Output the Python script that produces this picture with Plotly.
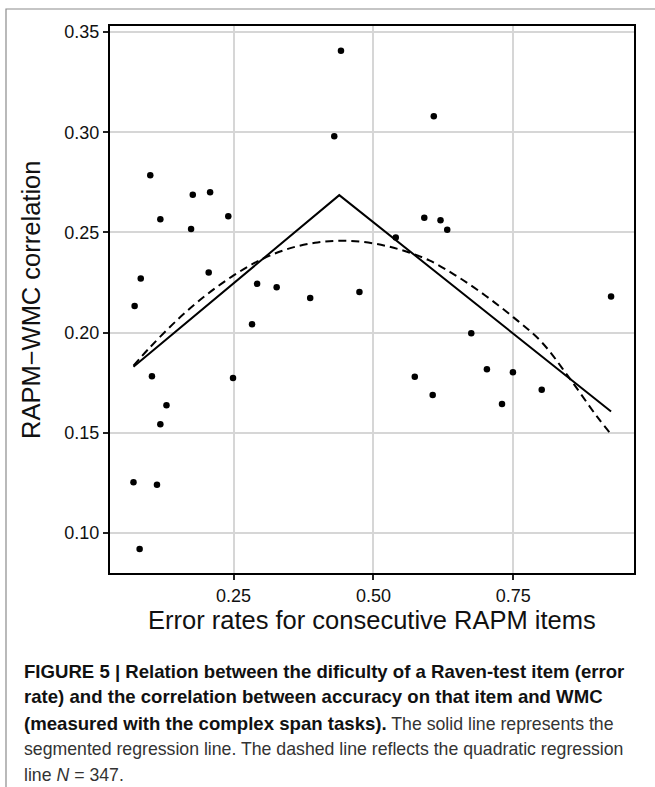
import plotly.graph_objects as go

# ---------------- data ----------------
error_rate = [0.442, 0.430, 0.608, 0.101, 0.177, 0.208, 0.119, 0.2405, 0.174,
              0.084, 0.2055, 0.073, 0.292, 0.327, 0.387, 0.475, 0.283, 0.104,
              0.249, 0.130, 0.119, 0.071, 0.113, 0.082, 0.591, 0.620, 0.632,
              0.540, 0.925, 0.675, 0.574, 0.606, 0.703, 0.7495, 0.730, 0.801]
rapm_wmc_corr = [0.3406, 0.298, 0.308, 0.2785, 0.2688, 0.270, 0.2566, 0.258, 0.2517,
                 0.227, 0.230, 0.2133, 0.2243, 0.2226, 0.2173, 0.2203, 0.2042, 0.1782,
                 0.1773, 0.1637, 0.1543, 0.1253, 0.124, 0.092, 0.2573, 0.256, 0.2513,
                 0.2474, 0.218, 0.1996, 0.1779, 0.1688, 0.1817, 0.1802, 0.1644, 0.1714]

# segmented regression line (breakpoint model)
seg_x = [0.071, 0.439, 0.925]
seg_y = [0.1829, 0.2686, 0.1606]

# quadratic regression line
quad_x = [0.071, 0.10, 0.15, 0.20, 0.25, 0.30, 0.35, 0.40, 0.45, 0.50,
          0.55, 0.60, 0.65, 0.70, 0.75, 0.80, 0.85, 0.90, 0.925]
quad_y = [0.1835, 0.1925, 0.2065, 0.2185, 0.2285, 0.2365, 0.2420, 0.2450, 0.2458, 0.2445,
          0.2412, 0.2360, 0.2280, 0.2185, 0.2077, 0.1955, 0.1775, 0.1580, 0.1492]

x_ticks = [0.25, 0.50, 0.75]
x_tick_labels = ["0.25", "0.50", "0.75"]
y_ticks = [0.10, 0.15, 0.20, 0.25, 0.30, 0.35]
y_tick_labels = ["0.10", "0.15", "0.20", "0.25", "0.30", "0.35"]

x_title = "Error rates for consecutive RAPM items"
y_title = "RAPM\u2212WMC correlation"
REG = "<span style='color:#333333;font-size:17.7px'>"
caption_lines = [
    "<b>FIGURE 5 | Relation between the dificulty of a Raven-test item (error</b>",
    "<b>rate) and the correlation between accuracy on that item and WMC</b>",
    "<b>(measured with the complex span tasks).</b>" + REG + " The solid line represents the</span>",
    REG + "segmented regression line. The dashed line reflects the quadratic regression</span>",
    REG + "line <i>N</i> = 347.</span>",
]

# ---------------- layout geometry ----------------
W, H = 655, 787
L, R, T, B = 110, 21, 26, 214
PW, PH = W - L - R, H - T - B
FONT = "Liberation Sans, Arial, Helvetica, sans-serif"


def px(xp):
    return (xp - L) / PW


def py(yp):
    return (H - B - yp) / PH


fig = go.Figure()

fig.add_trace(go.Scatter(x=error_rate, y=rapm_wmc_corr, mode="markers",
                         marker=dict(color="black", size=6.5),
                         showlegend=False, hoverinfo="skip"))
fig.add_trace(go.Scatter(x=seg_x, y=seg_y, mode="lines",
                         line=dict(color="black", width=2),
                         showlegend=False, hoverinfo="skip"))
fig.add_trace(go.Scatter(x=quad_x, y=quad_y, mode="lines",
                         line=dict(color="black", width=2, dash="8px,5px", shape="spline",
                                   smoothing=1.0),
                         showlegend=False, hoverinfo="skip"))

axis_common = dict(
    showgrid=True, gridcolor="#d6d6d6", gridwidth=1.7,
    zeroline=False, showline=True, linecolor="black", linewidth=2, mirror=True,
    ticks="outside", ticklen=5, tickwidth=1.5, tickcolor="#222222",
    tickfont=dict(family=FONT, size=18, color="#111111"),
)

fig.update_xaxes(range=[0.029, 0.966], tickvals=x_ticks, ticktext=x_tick_labels,
                 **axis_common)
fig.update_yaxes(range=[0.0800, 0.3530], tickvals=y_ticks, ticktext=y_tick_labels,
                 **axis_common)

annotations = [
    dict(text=x_title, x=px(372), y=py(620), xref="paper", yref="paper",
         showarrow=False, xanchor="center", yanchor="middle",
         font=dict(family=FONT, size=25.5, color="#111111")),
    dict(text=y_title, x=px(31), y=py(300), xref="paper", yref="paper",
         showarrow=False, xanchor="center", yanchor="middle", textangle=-90,
         font=dict(family=FONT, size=25.5, color="#111111")),
]
cap_y = [671, 697, 723, 749, 775]
for line, yy in zip(caption_lines, cap_y):
    annotations.append(dict(text=line, x=px(22), y=py(yy), xref="paper", yref="paper",
                            showarrow=False, xanchor="left", yanchor="middle", align="left",
                            font=dict(family=FONT, size=18.6, color="#111111")))

shapes = [
    dict(type="path", xref="paper", yref="paper",
         path=f"M {px(6)} {py(800)} L {px(6)} {py(9)} L {px(670)} {py(9)}",
         line=dict(color="#8c8c8c", width=1.2)),
]

fig.update_layout(
    width=W, height=H,
    margin=dict(l=L, r=R, t=T, b=B, pad=0),
    paper_bgcolor="white", plot_bgcolor="white",
    annotations=annotations, shapes=shapes,
    showlegend=False,
)

fig.write_html("out.html", config={"displayModeBar": False},
               post_script="document.body.style.margin='0';document.body.style.padding='0';")
